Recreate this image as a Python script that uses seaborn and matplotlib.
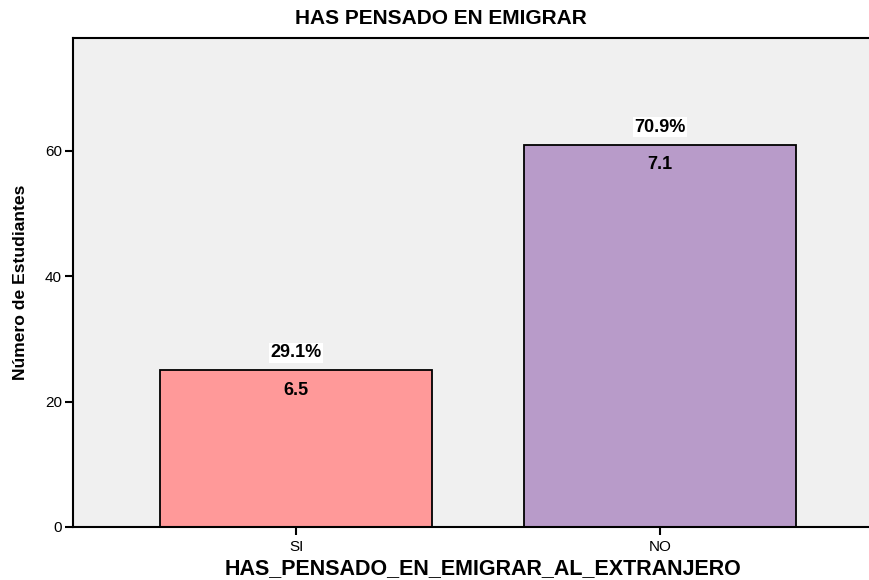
import seaborn as sns
import matplotlib.pyplot as plt
import pandas as pd

categorias = ['SI', 'NO']
estudiantes = [25, 61]
porcentajes = [29.1, 70.9]
valores_internos = [6.5, 7.1]
colores = ['#FF9999', '#B89BC9']

df = pd.DataFrame({'respuesta': categorias, 'n': estudiantes})

sns.set_style('white')
plt.rcParams['font.family'] = ['Liberation Sans', 'DejaVu Sans']
plt.rcParams['text.color'] = 'black'

fig = plt.figure(figsize=(8.7, 5.8), dpi=100)
ax = fig.add_axes([73 / 870, 1 - 527 / 580, 1 - 73 / 870, (527 - 38) / 580])
ax.set_facecolor('#F0F0F0')

sns.barplot(data=df, x='respuesta', y='n', hue='respuesta', palette=colores,
            order=categorias, width=0.747, edgecolor='black', linewidth=1.3,
            saturation=1, legend=False, ax=ax)

ax.set_xlim(-0.613, 1.577)
ax.set_ylim(0, 78)
ax.set_yticks([0, 20, 40, 60])

# etiquetas de porcentaje y valores
for i, (n, p, v) in enumerate(zip(estudiantes, porcentajes, valores_internos)):
    ax.text(i, n + 2.8, f'{p}%', ha='center', va='center', fontsize=13,
            fontweight='bold', color='black',
            bbox=dict(facecolor='white', edgecolor='none', pad=1))
    ax.text(i, n - 3.2, f'{v}', ha='center', va='center', fontsize=13,
            fontweight='bold', color='black')

for s in ['left', 'bottom', 'top']:
    ax.spines[s].set_visible(True)
    ax.spines[s].set_color('black')
    ax.spines[s].set_linewidth(1.5)
ax.spines['right'].set_visible(False)

ax.tick_params(axis='both', direction='out', length=6, width=1.5, colors='black',
               labelsize=11, left=True, bottom=True)
ax.tick_params(axis='y', pad=2)

ax.set_xlabel('')
ax.set_ylabel('Número de Estudiantes', fontsize=12.6, fontweight='bold', labelpad=12,
              color='black',
              family=['Liberation Sans Narrow', 'Liberation Sans', 'DejaVu Sans'])
fig.text(483 / 870, 1 - 569 / 580, 'HAS_PENSADO_EN_EMIGRAR_AL_EXTRANJERO',
         ha='center', va='center', fontsize=15.5, fontweight='bold')
fig.text(441 / 870, 1 - 18 / 580, 'HAS PENSADO EN EMIGRAR',
         ha='center', va='center', fontsize=15, fontweight='bold')

fig.savefig('out.png', dpi=100)
